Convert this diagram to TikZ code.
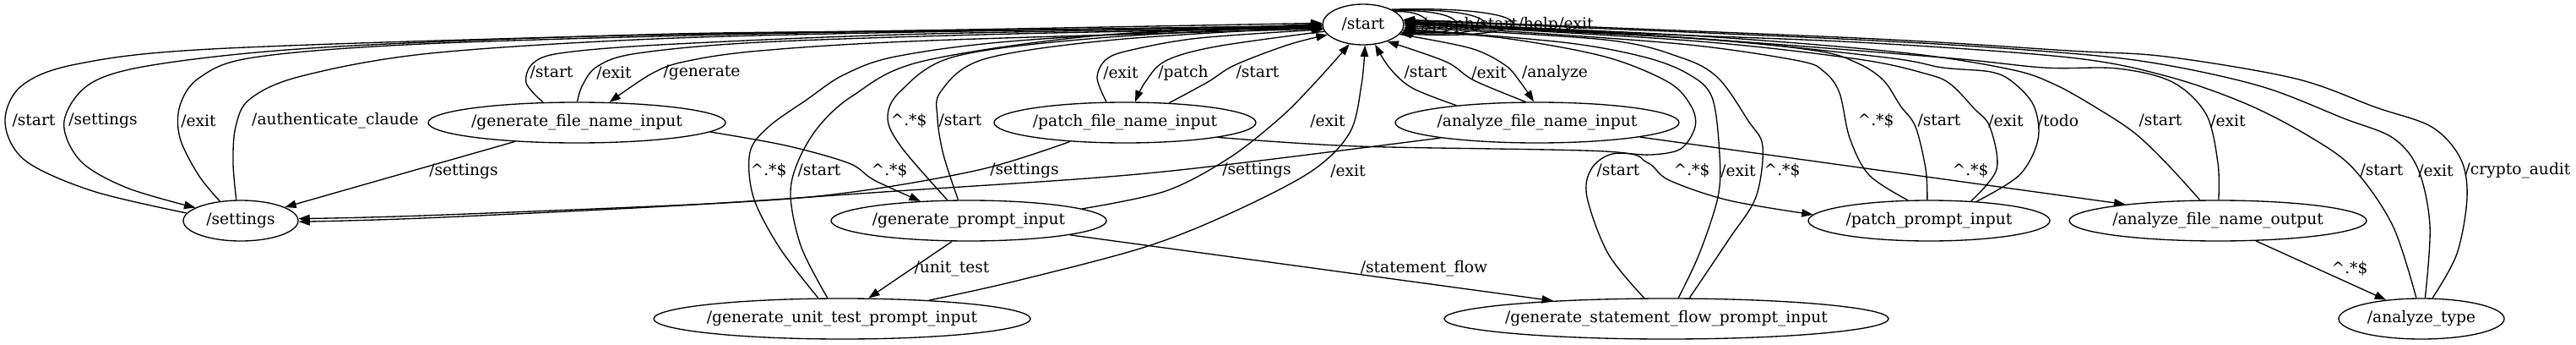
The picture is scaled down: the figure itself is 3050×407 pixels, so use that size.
\documentclass[tikz,border=0pt]{standalone}
\usepackage{fontspec}
\setmainfont{DejaVu Serif}
\usetikzlibrary{shapes.geometric,arrows.meta}
\begin{document}
\begin{tikzpicture}[x=0.75pt,y=-0.75pt,
  st/.style={draw, ellipse, line width=1pt, minimum height=36pt, inner sep=0pt, font=\fontsize{14pt}{16pt}\selectfont},
  lbl/.style={inner sep=0pt, font=\fontsize{14pt}{16pt}\selectfont},
  ed/.style={line width=1pt, -{Triangle[length=10pt,width=7pt]}},
  sm/.style={smooth, tension=0.55}]
\useasboundingbox (0,0) rectangle (3050,407);
% nodes
\node[st, minimum width=72pt]    (start)    at (1614,29)  {\makebox[0pt]{/start}};
\node[st, minimum width=264pt]   (gfni)     at (683,145)  {\makebox[0pt]{/generate\_file\_name\_input}};
\node[st, minimum width=102pt]   (settings) at (285,261)  {\makebox[0pt]{/settings}};
\node[st, minimum width=232.5pt] (pfni)     at (1332,145) {\makebox[0pt]{/patch\_file\_name\_input}};
\node[st, minimum width=252pt]   (afni)     at (1820,145) {\makebox[0pt]{/analyze\_file\_name\_input}};
\node[st, minimum width=244.5pt] (gpi)      at (1147,261) {\makebox[0pt]{/generate\_prompt\_input}};
\node[st, minimum width=214.5pt] (ppi)      at (2284,261) {\makebox[0pt]{/patch\_prompt\_input}};
\node[st, minimum width=264pt]   (afno)     at (2626,261) {\makebox[0pt]{/analyze\_file\_name\_output}};
\node[st, minimum width=334.5pt] (gutpi)    at (997,377)  {\makebox[0pt]{/generate\_unit\_test\_prompt\_input}};
\node[st, minimum width=394.5pt] (gsfpi)    at (1973,377) {\makebox[0pt]{/generate\_statement\_flow\_prompt\_input}};
\node[st, minimum width=147pt]   (atype)    at (2867,377) {\makebox[0pt]{/analyze\_type}};

% settings <-> start
\draw[ed] plot[sm] coordinates {(settings.172) (110,226) (30,190) (6,145) (25,102) (90,76) (250,58) (700,43) (1200,34) (start.178)};
\draw[ed] plot[sm] coordinates {(start.181) (1200,36) (800,40) (400,55) (200,74) (110,97) (76,143) (95,190) (150,222) (settings.164)};
\draw[ed] plot[sm] coordinates {(settings.137) (235,207) (213,163) (213,125) (236,92) (300,68) (500,52) (900,40) (1300,34) (start.182)};
\draw[ed] plot[sm] coordinates {(settings.102) (276,193) (279,150) (296,117) (357,90) (510,63) (800,45) (1200,36) (start.183)};
% gfni
\draw[ed] plot[sm] coordinates {(gfni.149) (623,98) (632,74) (670,62) (800,52) (1100,40) (start.184)};
\draw[ed] plot[sm] coordinates {(gfni.89) (690,100) (708,78) (755,63) (900,50) (1200,40) (start.185)};
\draw[ed] plot[sm] coordinates {(start.186) (1100,48) (900,60) (810,73) (770,88) (gfni.32)};
\draw[ed] (gfni.197) -- (settings.17);
\draw[ed] plot[sm] coordinates {(gfni.356) (930,172) (1005,193) (1035,213) (gpi.158)};
% pfni
\draw[ed] plot[sm] coordinates {(start.190) (1440,55) (1380,72) (1356,97) (pfni.64)};
\draw[ed] plot[sm] coordinates {(pfni.132) (1299,92) (1310,70) (1340,59) (1420,45) (start.187)};
\draw[ed] plot[sm] coordinates {(pfni.24) (1430,97) (1462,77) (1525,53) (start.196)};
\draw[ed] plot[sm] coordinates {(pfni.199) (1163,200) (1010,227) (857,240) (500,255) (settings.2)};
\draw[ed] plot[sm] coordinates {(pfni.351) (1608,173) (1900,179) (1950,192) (1976,213) (2047,237) (ppi.177)};
% gpi
\draw[ed] plot[sm] coordinates {(gpi.6) (1380,226) (1455,187) (1515,140) (1555,100) (start.235)};
\draw[ed] plot[sm] coordinates {(gpi.136) (1068,175) (1051,140) (1066,108) (1130,67) (1300,45) (start.181)};
\draw[ed] plot[sm] coordinates {(gpi.117) (1117,183) (1110,140) (1114,108) (1165,70) (1320,47) (start.183)};
\draw[ed] (gpi.231) -- (gutpi.38);
\draw[ed] (gpi.352) -- (gsfpi.171);
% gutpi
\draw[ed] plot[sm] coordinates {(gutpi.12) (1200,333) (1353,293) (1455,253) (1552,203) (1598,157) (1612,100) (start.275)};
\draw[ed] plot[sm] coordinates {(gutpi.139) (923,293) (892,233) (888,180) (910,150) (955,118) (1000,88) (1065,66) (1220,47) (start.179)};
\draw[ed] plot[sm] coordinates {(gutpi.125) (949,293) (936,233) (944,193) (969,150) (1010,113) (1090,73) (1300,42) (start.180)};
% afni
\draw[ed] plot[sm] coordinates {(start.345) (1741,57) (1782,77) (1800,97) (afni.99)};
\draw[ed] plot[sm] coordinates {(afni.168) (1672,104) (1645,80) (start.301)};
\draw[ed] plot[sm] coordinates {(afni.119) (1745,95) (1712,73) (start.325)};
\draw[ed] plot[sm] coordinates {(afni.189) (1450,195) (1300,210) (1061,226) (806,243) (500,258) (settings.359)};
\draw[ed] (afni.352) -- (afno.170);
% gsfpi
\draw[ed] plot[sm] coordinates {(gsfpi.137) (1904,300) (1879,233) (1884,200) (1909,182) (1955,183) (1990,176) (2007,150) (2002,125) (1975,97) (1900,67) (1780,45) (start.352)};
\draw[ed] plot[sm] coordinates {(gsfpi.60) (2012,300) (2034,233) (2036,183) (2027,115) (1998,87) (1945,67) (1850,50) (start.354)};
\draw[ed] plot[sm] coordinates {(gsfpi.42) (2047,283) (2079,233) (2087,173) (2070,143) (2034,92) (1990,68) (1900,47) (start.356)};
% ppi
\draw[ed] plot[sm] coordinates {(ppi.136) (2213,207) (2190,163) (2178,110) (2160,85) (2130,72) (2000,53) (1800,38) (start.358)};
\draw[ed] plot[sm] coordinates {(ppi.95) (2280,200) (2268,150) (2250,125) (2230,95) (2200,75) (2150,60) (2000,45) (start.0)};
\draw[ed] plot[sm] coordinates {(ppi.25) (2364,200) (2356,150) (2337,128) (2310,100) (2283,88) (2200,70) (2000,48) (start.1)};
\draw[ed] plot[sm] coordinates {(ppi.22) (2391,207) (2413,165) (2408,125) (2383,97) (2357,85) (2300,80) (2233,68) (2000,45) (start.2)};
% afno
\draw[ed] plot[sm] coordinates {(afno.131) (2565,193) (2527,157) (2483,128) (2433,100) (2380,82) (2250,62) (2000,42) (start.3)};
\draw[ed] plot[sm] coordinates {(afno.88) (2626,193) (2612,135) (2572,97) (2507,81) (2420,80) (2300,68) (2000,45) (start.4)};
\draw[ed] (afno.332) -- (atype.152);
% atype
\draw[ed] plot[sm] coordinates {(atype.104) (2833,267) (2787,200) (2737,163) (2660,123) (2565,90) (2450,68) (2200,50) (1900,38) (start.5)};
\draw[ed] plot[sm] coordinates {(atype.80) (2877,267) (2863,200) (2833,163) (2775,140) (2680,103) (2565,77) (2450,63) (2200,47) (start.6)};
\draw[ed] plot[sm] coordinates {(atype.62) (2909,300) (2921,233) (2913,187) (2879,150) (2813,127) (2718,93) (2565,67) (2450,60) (2200,45) (start.7)};
% self loops
\draw[ed] (start.22) .. controls (1700,12) and (1700,42) .. (start.-8);
\draw[ed] (start.24) .. controls (1745,10) and (1745,44) .. (start.-10);
\draw[ed] (start.26) .. controls (1790,8) and (1790,46) .. (start.-12);
\draw[ed] (start.28) .. controls (1835,6) and (1835,48) .. (start.-14);

% labels
\node[lbl, anchor=base west] (lg) at (1683,34) {/graph};
\node[lbl, anchor=base west] (ls) at (lg.base east) {/start};
\node[lbl, anchor=base west] (lh) at (ls.base east) {/help};
\node[lbl, anchor=base west] (le) at (lh.base east) {/exit};

\node[lbl] (l01) at (40,143) {/start};
\node[lbl] (l02) at (122,143) {/settings};
\node[lbl] (l03) at (235,143) {/exit};
\node[lbl] (l04) at (397,143) {/authenticate\_claude};
\node[lbl] (l05) at (653,86) {/start};
\node[lbl] (l06) at (727,86) {/exit};
\node[lbl] (l07) at (831,86) {/generate};
\node[lbl] (l08) at (549,203) {/settings};
\node[lbl] (l09) at (1053,202) {\textasciicircum.*\$};
\node[lbl] (l10) at (1401,86) {/patch};
\node[lbl] (l11) at (1327,86) {/exit};
\node[lbl] (l12) at (1489,86) {/start};
\node[lbl] (l13) at (1572,143) {/exit};
\node[lbl] (l14) at (1596,202) {/exit};
\node[lbl] (l15) at (1076,143) {\textasciicircum.*\$};
\node[lbl] (l16) at (1137,143) {/start};
\node[lbl] (l17) at (910,202) {\textasciicircum.*\$};
\node[lbl] (l18) at (970,202) {/start};
\node[lbl] (l19) at (1127,318) {/unit\_test};
\node[lbl] (l20) at (1686,318) {/statement\_flow};
\node[lbl] (l21) at (1841,86) {/analyze};
\node[lbl] (l22) at (1688,86) {/start};
\node[lbl] (l23) at (1763,86) {/exit};
\node[lbl] (l24) at (1488,202) {/settings};
\node[lbl] (l25) at (1213,202) {/settings};
\node[lbl] (l26) at (2003,202) {\textasciicircum.*\$};
\node[lbl] (l27) at (1916,202) {/start};
\node[lbl] (l28) at (2058,202) {/exit};
\node[lbl] (l29) at (2110,202) {\textasciicircum.*\$};
\node[lbl] (l30) at (2221,143) {\textasciicircum.*\$};
\node[lbl] (l31) at (2296,143) {/start};
\node[lbl] (l32) at (2375,143) {/exit};
\node[lbl] (l33) at (2437,143) {/todo};
\node[lbl] (l34) at (2558,143) {/start};
\node[lbl] (l35) at (2638,143) {/exit};
\node[lbl] (l36) at (2820,202) {/start};
\node[lbl] (l37) at (2884,202) {/exit};
\node[lbl] (l38) at (2981,202) {/crypto\_audit};
\node[lbl] (l39) at (2333,202) {\textasciicircum.*\$};
\node[lbl] (l40) at (2782,318) {\textasciicircum.*\$};
\end{tikzpicture}
\end{document}
